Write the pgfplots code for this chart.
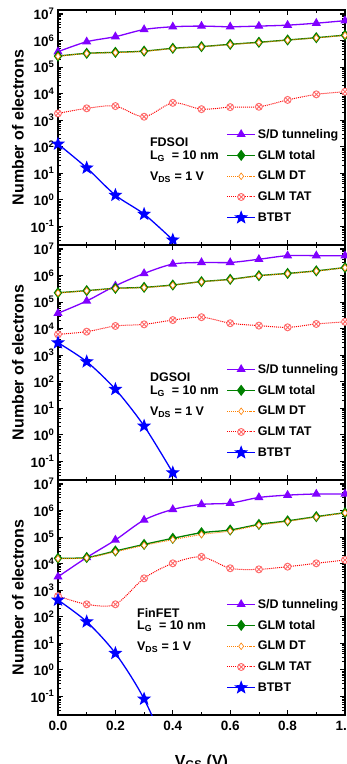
\documentclass[border=0pt]{standalone}
\usepackage{pgfplots}
\pgfplotsset{compat=1.18}
\usepackage{fontspec}
\setmainfont{Liberation Sans}
\definecolor{cSD}{RGB}{128,0,255}
\definecolor{cTot}{RGB}{0,128,0}
\definecolor{cDT}{RGB}{255,128,0}
\definecolor{cTAT}{RGB}{255,0,0}
\definecolor{cTATm}{RGB}{255,105,105}
\definecolor{cBT}{RGB}{0,0,255}
\pgfdeclareplotmark{fstar}{%
  \pgfpathmoveto{\pgfpointpolar{90}{\pgfplotmarksize}}%
  \pgfpathlineto{\pgfpointpolar{126}{0.42*\pgfplotmarksize}}%
  \pgfpathlineto{\pgfpointpolar{162}{\pgfplotmarksize}}%
  \pgfpathlineto{\pgfpointpolar{198}{0.42*\pgfplotmarksize}}%
  \pgfpathlineto{\pgfpointpolar{234}{\pgfplotmarksize}}%
  \pgfpathlineto{\pgfpointpolar{270}{0.42*\pgfplotmarksize}}%
  \pgfpathlineto{\pgfpointpolar{306}{\pgfplotmarksize}}%
  \pgfpathlineto{\pgfpointpolar{342}{0.42*\pgfplotmarksize}}%
  \pgfpathlineto{\pgfpointpolar{18}{\pgfplotmarksize}}%
  \pgfpathlineto{\pgfpointpolar{54}{0.42*\pgfplotmarksize}}%
  \pgfpathclose
  \pgfusepathqfillstroke
}
\pgfplotsset{
  width=287pt, height=235pt, scale only axis,
  xmin=0, xmax=1, ymin=0.01995, ymax=1.4125e7,
  xtick={0,0.2,0.4,0.6,0.8,1.0},
  minor xtick={0.1,0.3,0.5,0.7,0.9},
  ytick={1e-1,1,10,100,1e3,1e4,1e5,1e6,1e7},
  yticklabels={10\textsuperscript{-1},10\textsuperscript{0},10\textsuperscript{1},10\textsuperscript{2},10\textsuperscript{3},10\textsuperscript{4},10\textsuperscript{5},10\textsuperscript{6},10\textsuperscript{7}},
  minor ytick={0.02,0.03,0.04,0.05,0.06,0.07,0.08,0.09,
    0.2,0.3,0.4,0.5,0.6,0.7,0.8,0.9,
    2,3,4,5,6,7,8,9,
    20,30,40,50,60,70,80,90,
    200,300,400,500,600,700,800,900,
    2000,3000,4000,5000,6000,7000,8000,9000,
    2e4,3e4,4e4,5e4,6e4,7e4,8e4,9e4,
    2e5,3e5,4e5,5e5,6e5,7e5,8e5,9e5,
    2e6,3e6,4e6,5e6,6e6,7e6,8e6,9e6},
  axis line style={line width=1.5pt},
  every major tick/.append style={black, line width=1.1pt},
  every minor tick/.append style={black, line width=0.8pt},
  major tick length=5pt, minor tick length=3pt,
  tick label style={font=\bfseries\fontsize{13.5}{14}\selectfont},
  xticklabel style={yshift=-3pt},
  ylabel style={at={(axis description cs:-0.1394,0.5)}, anchor=center,
    font=\bfseries\fontsize{16}{18}\selectfont},
  legend style={draw=none, fill=none, at={(axis description cs:0.995,0.077)}, anchor=south east,
    font=\bfseries\fontsize{12.5}{13}\selectfont, row sep=6.5pt},
  legend cell align=left,
  legend image code/.code={\draw[mark repeat=2,mark phase=2,#1] plot coordinates {(0pt,0pt) (14pt,0pt) (28pt,0pt)};},
}
\tikzset{
  stSD/.style={color=cSD, line width=1.3pt, mark=triangle*, mark size=4pt, smooth},
  stTot/.style={color=cTot, line width=1.3pt, mark=diamond*, mark size=4.6pt, smooth},
  stDT/.style={color=cDT, line width=1pt, densely dotted, mark=diamond*, mark size=3.3pt,
    mark options={solid, fill=white, draw=cDT, line width=0.6pt}, smooth},
  stTAT/.style={color=cTAT, line width=1pt, densely dotted, mark=otimes*, mark size=3.5pt,
    mark options={solid, fill=white, draw=cTATm, line width=0.9pt}, smooth},
  stBT/.style={color=cBT, line width=1.3pt, mark=fstar, mark size=5.5pt,
    mark options={solid, fill=cBT}, smooth},
}
\newcommand{\annot}[2]{%
  \node[anchor=west, font=\bfseries\fontsize{12.5}{13}\selectfont, inner sep=0pt] at (axis description cs:#1,0.436) {#2};
  \node[anchor=west, font=\bfseries\fontsize{12.5}{13}\selectfont, inner sep=0pt] at (axis description cs:#1,0.377) {L\textsubscript{G}\ \ = 10 nm};
  \node[anchor=west, font=\bfseries\fontsize{12.5}{13}\selectfont, inner sep=0pt] at (axis description cs:#1,0.29) {V\textsubscript{DS} = 1 V};
}
\begin{document}
\begin{tikzpicture}
% ---------------- FDSOI ----------------
\begin{axis}[ymode=log, at={(58pt,519pt)}, anchor=south west, xticklabels={}, ylabel={Number of electrons}]
\addplot[stSD] coordinates {(0,3.8e5)(0.1,9.0e5)(0.2,1.4e6)(0.3,2.6e6)(0.4,3.3e6)(0.5,3.5e6)(0.6,3.3e6)(0.7,3.5e6)(0.8,3.8e6)(0.9,4.5e6)(1.0,5.6e6)};
\addplot[stTot] coordinates {(0,2.6e5)(0.1,3.3e5)(0.2,3.6e5)(0.3,4.0e5)(0.4,5.1e5)(0.5,5.9e5)(0.6,7.2e5)(0.7,8.6e5)(0.8,1.05e6)(0.9,1.28e6)(1.0,1.6e6)};
\addplot[stDT] coordinates {(0,2.55e5)(0.1,3.25e5)(0.2,3.5e5)(0.3,3.9e5)(0.4,5.0e5)(0.5,5.8e5)(0.6,7.05e5)(0.7,8.4e5)(0.8,1.03e6)(0.9,1.25e6)(1.0,1.57e6)};
\addplot[stTAT] coordinates {(0,1.8e3)(0.1,2.8e3)(0.2,3.4e3)(0.3,1.35e3)(0.4,4.5e3)(0.5,2.6e3)(0.6,3.1e3)(0.7,3.2e3)(0.8,5.8e3)(0.9,9.4e3)(1.0,1.18e4)};
\addplot[stBT] coordinates {(0,127)(0.1,16)(0.2,1.5)(0.3,0.29)(0.4,0.031)};
\legend{S/D tunneling, GLM total, GLM DT, GLM TAT, BTBT}
\annot{0.32}{FDSOI}
\end{axis}
% ---------------- DGSOI ----------------
\begin{axis}[ymode=log, at={(58pt,284pt)}, anchor=south west, xticklabels={}, ylabel={Number of electrons}]
\addplot[stSD] coordinates {(0,3.8e4)(0.1,1.1e5)(0.2,4.1e5)(0.3,1.2e6)(0.4,2.7e6)(0.5,3.1e6)(0.6,3.1e6)(0.7,4.1e6)(0.8,5.6e6)(0.9,5.6e6)(1.0,5.6e6)};
\addplot[stTot] coordinates {(0,2.25e5)(0.1,2.7e5)(0.2,3.3e5)(0.3,3.6e5)(0.4,4.4e5)(0.5,5.9e5)(0.6,7.2e5)(0.7,9.9e5)(0.8,1.2e6)(0.9,1.5e6)(1.0,2.0e6)};
\addplot[stDT] coordinates {(0,2.2e5)(0.1,2.65e5)(0.2,3.25e5)(0.3,3.5e5)(0.4,4.3e5)(0.5,5.8e5)(0.6,7.05e5)(0.7,9.7e5)(0.8,1.18e6)(0.9,1.47e6)(1.0,1.96e6)};
\addplot[stTAT] coordinates {(0,6.1e3)(0.1,7.7e3)(0.2,1.26e4)(0.3,1.45e4)(0.4,2.1e4)(0.5,2.7e4)(0.6,1.6e4)(0.7,1.3e4)(0.8,1.12e4)(0.9,1.5e4)(1.0,1.8e4)};
\addplot[stBT] coordinates {(0,2950)(0.1,570)(0.2,52)(0.3,2.15)(0.4,0.0375)};
\legend{S/D tunneling, GLM total, GLM DT, GLM TAT, BTBT}
\annot{0.32}{DGSOI}
\end{axis}
% ---------------- FinFET ----------------
\begin{axis}[ymode=log, at={(58pt,49pt)}, anchor=south west, ylabel={Number of electrons},
  xticklabels={0.0,0.2,0.4,0.6,0.8,1.0},
  xlabel={V\textsubscript{GS} (V)},
  xlabel style={at={(axis description cs:0.5,-0.200)}, anchor=center,
      font=\bfseries\fontsize{16}{18}\selectfont}]
\addplot[stSD] coordinates {(0,3.2e3)(0.1,1.7e4)(0.2,7.8e4)(0.3,4.4e5)(0.4,1.1e6)(0.5,1.7e6)(0.6,1.9e6)(0.7,3.1e6)(0.8,3.8e6)(0.9,4.2e6)(1.0,4.2e6)};
\addplot[stTot] coordinates {(0,1.6e4)(0.1,1.7e4)(0.2,3.0e4)(0.3,5.3e4)(0.4,9.0e4)(0.5,1.46e5)(0.6,1.85e5)(0.7,3.0e5)(0.8,4.1e5)(0.9,5.9e5)(1.0,8.3e5)};
\addplot[stDT] coordinates {(0,1.55e4)(0.1,1.65e4)(0.2,2.8e4)(0.3,4.9e4)(0.4,8.0e4)(0.5,1.25e5)(0.6,1.7e5)(0.7,2.8e5)(0.8,3.9e5)(0.9,5.7e5)(1.0,8.1e5)};
\addplot[stTAT] coordinates {(0,600)(0.1,294)(0.2,294)(0.3,2.8e3)(0.4,1.03e4)(0.5,1.8e4)(0.6,6.7e3)(0.7,6.1e3)(0.8,7.7e3)(0.9,1.03e4)(1.0,1.37e4)};
\addplot[stBT] coordinates {(0,427)(0.1,65)(0.2,4.2)(0.3,0.08)(0.4,3e-4)};
\legend{S/D tunneling, GLM total, GLM DT, GLM TAT, BTBT}
\annot{0.275}{FinFET}
\end{axis}
\pgfresetboundingbox
\useasboundingbox (0,0) rectangle (346pt,764pt);
\end{tikzpicture}
\end{document}
